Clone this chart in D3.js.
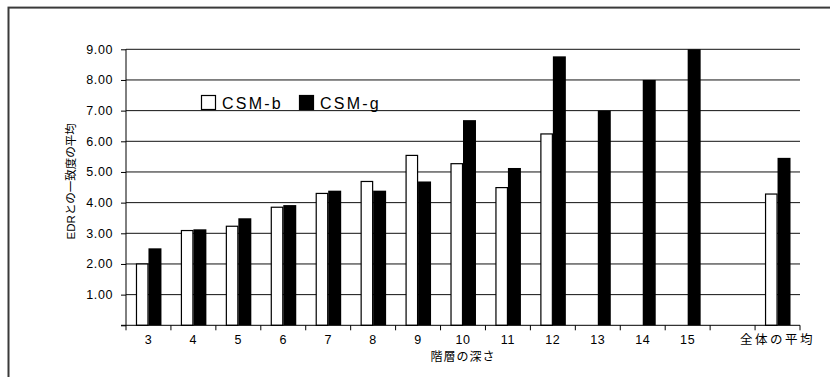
<!DOCTYPE html>
<html>
<head>
<meta charset="utf-8">
<script src="https://cdn.jsdelivr.net/npm/d3@7"></script>
<style>
  html, body { margin: 0; padding: 0; background: #fff; }
  svg { display: block; }
  text { font-family: "Liberation Sans", "Noto Sans CJK JP", sans-serif; fill: #000; }
</style>
</head>
<body>
<svg id="chart" width="830" height="377"></svg>
<script>
// ---- data ----
const categories = ["3","4","5","6","7","8","9","10","11","12","13","14","15"," ","全体の平均"];
const seriesNames = ["CSM-b", "CSM-g"];
const csmB = [2.00, 3.09, 3.23, 3.85, 4.30, 4.69, 5.54, 5.27, 4.49, 6.24, null, null, null, null, 4.28];
const csmG = [2.51, 3.13, 3.49, 3.92, 4.39, 4.39, 4.69, 6.69, 5.13, 8.77, 7.00, 8.00, 9.00, null, 5.46];
const yTicks = [1, 2, 3, 4, 5, 6, 7, 8, 9];
const yTitle = "EDRとの一致度の平均";
const xTitle = "階層の深さ";

// ---- layout ----
const svg = d3.select("#chart");
const pLeft = 126, pRight = 800, pTop = 49.3, pBottom = 325.3;

const x = d3.scaleBand().domain(categories).range([pLeft, pRight]).padding(0);
const x1 = d3.scaleBand().domain(seriesNames).range([0, x.bandwidth()]).paddingInner(0).paddingOuter(0.8);
const y = d3.scaleLinear().domain([0, 9]).range([pBottom, pTop]);

// outer frame
svg.append("rect")
  .attr("x", 8.5).attr("y", 7.6)
  .attr("width", 900).attr("height", 500)
  .attr("fill", "none").attr("stroke", "#3a3a3a").attr("stroke-width", 2);

// gridlines
svg.append("g").selectAll("line").data(yTicks).join("line")
  .attr("x1", pLeft).attr("x2", pRight)
  .attr("y1", d => y(d)).attr("y2", d => y(d))
  .attr("stroke", "#111").attr("stroke-width", 1);

// y axis
const yAxis = d3.axisLeft(y).tickValues([0].concat(yTicks)).tickSize(5).tickPadding(8)
  .tickFormat(d => d === 0 ? "" : d3.format(".2f")(d));
const gy = svg.append("g").attr("transform", `translate(${pLeft},0)`).call(yAxis);
gy.select(".domain").remove();
gy.selectAll(".tick line").attr("stroke", "#000");
gy.selectAll(".tick text").attr("font-size", "12.5px").attr("letter-spacing", "0.6px")
  .attr("font-family", "'Liberation Sans', sans-serif");
svg.append("line").attr("x1", pLeft).attr("x2", pLeft).attr("y1", y(9)).attr("y2", y(0))
  .attr("stroke", "#000").attr("stroke-width", 1);

// bars
const rows = categories.map((c, i) => ({ c, b: csmB[i], g: csmG[i] }));
const groups = svg.append("g").selectAll("g").data(rows).join("g")
  .attr("transform", d => `translate(${x(d.c)},0)`);
groups.filter(d => d.b != null).append("rect")
  .attr("x", x1("CSM-b") + 0.5)
  .attr("width", x1.bandwidth() - 1)
  .attr("y", d => y(d.b))
  .attr("height", d => y(0) - y(d.b))
  .attr("fill", "#fff").attr("stroke", "#000").attr("stroke-width", 1.2);
groups.filter(d => d.g != null).append("rect")
  .attr("x", x1("CSM-g"))
  .attr("width", x1.bandwidth() + 0.5)
  .attr("y", d => y(d.g))
  .attr("height", d => y(0) - y(d.g))
  .attr("fill", "#000");

// x axis line + boundary ticks
svg.append("line").attr("x1", pLeft - 5).attr("x2", pRight).attr("y1", y(0)).attr("y2", y(0))
  .attr("stroke", "#000").attr("stroke-width", 1);
const bounds = categories.map(c => x(c)).concat([x(categories[categories.length - 1]) + x.bandwidth()]);
svg.append("g").selectAll("line").data(bounds).join("line")
  .attr("x1", d => d).attr("x2", d => d)
  .attr("y1", y(0)).attr("y2", y(0) + 5)
  .attr("stroke", "#000");
const xAxis = d3.axisBottom(x).tickSize(0).tickPadding(0);
const gx = svg.append("g").attr("transform", `translate(0,${y(0)})`).call(xAxis);
gx.select(".domain").remove();
gx.selectAll(".tick text").attr("y", 0).attr("dy", 0).attr("transform", "translate(0,19)")
  .attr("font-size", "12.5px")
  .attr("letter-spacing", d => /^\d+$/.test(d) ? "0.6px" : "2.5px")
  .attr("font-family", d => /^\d+$/.test(d) ? "'Liberation Sans', sans-serif" : "'Noto Sans CJK JP', sans-serif");

// axis titles
svg.append("text")
  .attr("x", (pLeft + pRight) / 2).attr("y", 361)
  .attr("text-anchor", "middle")
  .attr("font-size", "12px").attr("letter-spacing", "1px")
  .attr("font-family", "'Noto Sans CJK JP', sans-serif")
  .text(xTitle);
svg.append("text")
  .attr("transform", `translate(75,${(pTop + pBottom) / 2 - 6}) rotate(-90)`)
  .attr("text-anchor", "middle")
  .attr("font-size", "11.5px")
  .text(yTitle);

// legend
const legend = svg.append("g");
const legendItems = [
  { name: seriesNames[0], fill: "#fff", x: 201 },
  { name: seriesNames[1], fill: "#000", x: 299 }
];
legendItems.forEach(it => {
  legend.append("rect").attr("x", it.x + 0.5).attr("y", 95.5).attr("width", 14).attr("height", 14)
    .attr("fill", it.fill).attr("stroke", "#000").attr("stroke-width", 1.2);
  legend.append("text").attr("x", it.x + 21).attr("y", 109)
    .attr("font-size", "16px").attr("letter-spacing", "2.2px")
    .text(it.name);
});
</script>
</body>
</html>
